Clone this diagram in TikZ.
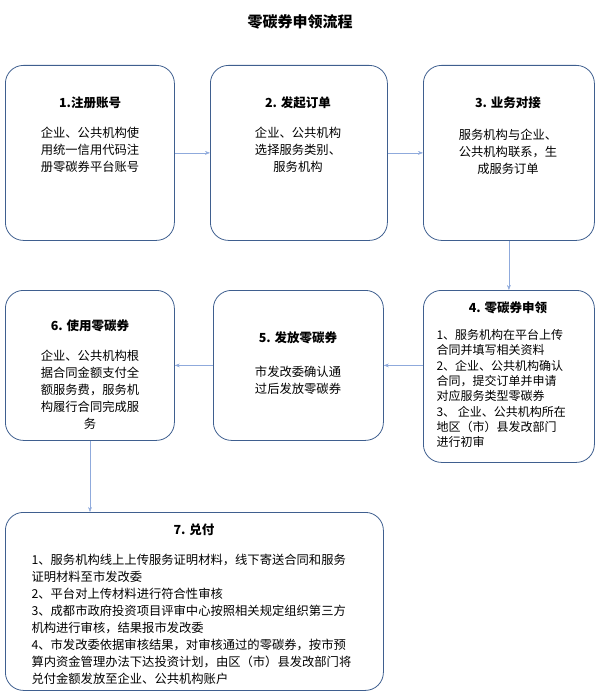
\documentclass[tikz,border=0pt]{standalone}
\usepackage{fontspec}
\setmainfont{Noto Sans CJK SC}
\usetikzlibrary{positioning,arrows.meta}
\definecolor{boxline}{HTML}{3F5F8F}
\definecolor{arrline}{HTML}{8FAADC}
\begin{document}
\begin{tikzpicture}[x=1pt,y=-1pt,font=\fontsize{12.3}{17}\selectfont,
    stepbox/.style={draw=boxline,thick,rounded corners=18pt,anchor=north west,inner sep=0pt},
    steptitle/.style={font=\bfseries\fontsize{12.5}{15}\selectfont},
    flow/.style={draw=arrline,-{Stealth[length=5pt]}}]
  \useasboundingbox (0,0) rectangle (600,698);
  \node[font=\fontsize{15}{18}\selectfont\bfseries] (title) at (300,22) {零碳券申领流程};
  % boxes
  \node[stepbox,minimum width=169pt,minimum height=175pt] (reg) at (5,65) {};
  \node[stepbox,minimum width=177pt,minimum height=175pt] (order) at (210,65) {};
  \node[stepbox,minimum width=171pt,minimum height=175pt] (dock) at (423,65) {};
  \node[stepbox,minimum width=171pt,minimum height=172pt] (apply) at (423,290) {};
  \node[stepbox,minimum width=170pt,minimum height=150pt] (issue) at (213,290) {};
  \node[stepbox,minimum width=169pt,minimum height=150pt] (use) at (5,290) {};
  \node[stepbox,minimum width=378pt,minimum height=178pt] (cash) at (5,512) {};
  % texts
  \node[steptitle] at (90,103) {1.注册账号};
  \node[align=center] at (90,150) {企业、公共机构使\\用统一信用代码注\\册零碳券平台账号};
  \node[steptitle] at (298,103) {2. 发起订单};
  \node[align=center] at (298,150) {企业、公共机构\\选择服务类别、\\服务机构};
  \node[steptitle] at (508,103) {3. 业务对接};
  \node[align=center] at (508,152) {服务机构与企业、\\公共机构联系，生\\成服务订单};
  \node[steptitle] at (508,308) {4. 零碳券申领};
  \node[align=left,anchor=north west,font=\fontsize{12}{15.3}\selectfont] at (433,326) {1、服务机构在平台上传\\合同并填写相关资料\\2、企业、公共机构确认\\合同，提交订单并申请\\对应服务类型零碳券\\3、 企业、公共机构所在\\地区（市）县发改部门\\进行初审};
  \node[steptitle] at (298,338) {5. 发放零碳券};
  \node[align=center] at (298,380) {市发改委确认通\\过后发放零碳券};
  \node[steptitle] at (90,326) {6. 使用零碳券};
  \node[align=center] at (90,390) {企业、公共机构根\\据合同金额支付全\\额服务费，服务机\\构履行合同完成服\\务};
  \node[steptitle] at (194,530) {7. 兑付};
  \node[align=left,anchor=north west] at (28,551) {1、服务机构线上上传服务证明材料，线下寄送合同和服务\\证明材料至市发改委\\2、平台对上传材料进行符合性审核\\3、成都市政府投资项目评审中心按照相关规定组织第三方\\机构进行审核，结果报市发改委\\4、市发改委依据审核结果，对审核通过的零碳券，按市预\\算内资金管理办法下达投资计划，由区（市）县发改部门将\\兑付金额发放至企业、公共机构账户};
  % connectors
  \draw[flow] (reg.east) -- (order.west);
  \draw[flow] (order.east) -- (dock.west);
  \draw[flow] (dock.south) -- (apply.north);
  \draw[flow] (apply.west |- issue.east) -- (issue.east);
  \draw[flow] (issue.west) -- (use.east);
  \draw[flow] (use.south -| 90,0) -- (cash.north -| 90,0);
\end{tikzpicture}
\end{document}
